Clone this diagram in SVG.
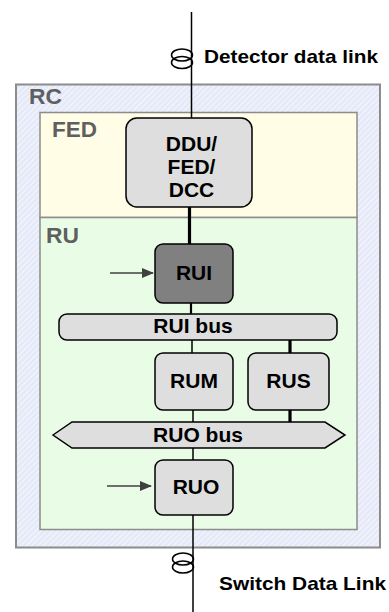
<svg xmlns="http://www.w3.org/2000/svg" width="389" height="612" viewBox="0 0 389 612">
  <defs>
    <pattern id="hatch" width="4" height="4" patternUnits="userSpaceOnUse" patternTransform="rotate(45)">
      <rect width="4" height="4" fill="#e5e9f8"/>
      <line x1="0" y1="0" x2="0" y2="4" stroke="#fafbff" stroke-width="1.6"/>
    </pattern>
    <marker id="arrow" viewBox="0 0 12 10" refX="11" refY="5" markerWidth="12" markerHeight="10" markerUnits="userSpaceOnUse" orient="auto">
      <path d="M0,0 L12,5 L0,10 z" fill="#404040"/>
    </marker>
  </defs>
  <style>
    .frame { stroke: #8c8c8c; }
    .region-label { font-family: "Liberation Sans", Arial, sans-serif; font-weight: bold; font-size: 22px; fill: #5f5f5f; }
    .box { fill: #dedede; stroke: #000; stroke-width: 1.5; }
    .dark { fill: #808080; }
    .label { font-family: "Liberation Sans", Arial, sans-serif; font-weight: bold; font-size: 21px; fill: #000; text-anchor: middle; }
    .link-label { font-family: "Liberation Sans", Arial, sans-serif; font-weight: bold; font-size: 18.5px; fill: #000; }
    .wire { stroke: #000; fill: none; }
    .thin { stroke-width: 1.5; }
    .mid { stroke-width: 2.2; }
    .thick { stroke-width: 3.2; }
    .coil { fill: none; stroke: #000; stroke-width: 1.5; }
    .input { stroke: #404040; stroke-width: 1.5; marker-end: url(#arrow); }
  </style>

  <!-- containers -->
  <g id="RC">
    <rect x="16" y="84.5" width="364" height="463" fill="url(#hatch)" class="frame" stroke-width="2"/>
    <text x="29" y="104" class="region-label" textLength="33" lengthAdjust="spacingAndGlyphs">RC</text>
  </g>
  <g id="FED">
    <rect x="40" y="112.5" width="317" height="105" fill="#fffde6" class="frame" stroke-width="1.5"/>
    <text x="52" y="136.5" class="region-label" textLength="45" lengthAdjust="spacingAndGlyphs">FED</text>
  </g>
  <g id="RU">
    <rect x="40" y="217.5" width="317" height="312" fill="#e9fde6" class="frame" stroke-width="1.5"/>
    <text x="46" y="243" class="region-label" textLength="33" lengthAdjust="spacingAndGlyphs">RU</text>
  </g>

  <!-- connectors -->
  <g id="connectors">
    <line x1="191.5" y1="12" x2="191.5" y2="118" class="wire thin"/>
    <line x1="189.5" y1="207" x2="189.5" y2="244" class="wire thick"/>
    <line x1="191" y1="303" x2="191" y2="314" class="wire mid"/>
    <line x1="192" y1="340" x2="192" y2="353" class="wire thin"/>
    <line x1="290" y1="340" x2="290" y2="353" class="wire thick"/>
    <line x1="193" y1="410" x2="193" y2="422" class="wire thin"/>
    <line x1="290" y1="410" x2="290" y2="422" class="wire thick"/>
    <line x1="193" y1="448" x2="193" y2="460" class="wire thin"/>
    <line x1="193" y1="515" x2="193" y2="612" class="wire thin"/>
    <line x1="110" y1="273" x2="153" y2="273" class="input"/>
    <line x1="107" y1="486" x2="151" y2="486" class="input"/>
  </g>

  <!-- link couplers -->
  <g id="detector-link">
    <ellipse cx="182" cy="55" rx="10.5" ry="6" class="coil"/>
    <ellipse cx="182" cy="62.5" rx="10.5" ry="6" class="coil"/>
    <text x="204" y="63" class="link-label" textLength="174" lengthAdjust="spacingAndGlyphs">Detector data link</text>
  </g>
  <g id="switch-link">
    <ellipse cx="183" cy="559" rx="10.5" ry="6" class="coil"/>
    <ellipse cx="183" cy="567" rx="10.5" ry="6" class="coil"/>
    <text x="219" y="590" class="link-label" textLength="167" lengthAdjust="spacingAndGlyphs">Switch Data Link</text>
  </g>

  <!-- nodes -->
  <g id="DDU">
    <rect x="126" y="118" width="126" height="89" rx="11" class="box"/>
    <text x="191.5" y="151" class="label">DDU/</text>
    <text x="191.5" y="174" class="label">FED/</text>
    <text x="191.5" y="197" class="label">DCC</text>
  </g>
  <g id="RUI">
    <rect x="155" y="244" width="78" height="59" rx="8" class="box dark"/>
    <text x="194" y="280" class="label">RUI</text>
  </g>
  <g id="RUI-bus">
    <rect x="59" y="314" width="278" height="26" rx="8" class="box"/>
    <text x="193" y="332.5" class="label">RUI bus</text>
  </g>
  <g id="RUM">
    <rect x="155" y="353" width="78" height="57" rx="8" class="box"/>
    <text x="194" y="387.5" class="label">RUM</text>
  </g>
  <g id="RUS">
    <rect x="248" y="353" width="81" height="57" rx="8" class="box"/>
    <text x="288.5" y="387.5" class="label">RUS</text>
  </g>
  <g id="RUO-bus">
    <polygon points="53,435 72,422 325,422 345,435 325,448 72,448" class="box"/>
    <text x="198" y="442" class="label">RUO bus</text>
  </g>
  <g id="RUO">
    <rect x="155" y="460" width="78" height="55" rx="8" class="box"/>
    <text x="196" y="493.5" class="label">RUO</text>
  </g>
</svg>
